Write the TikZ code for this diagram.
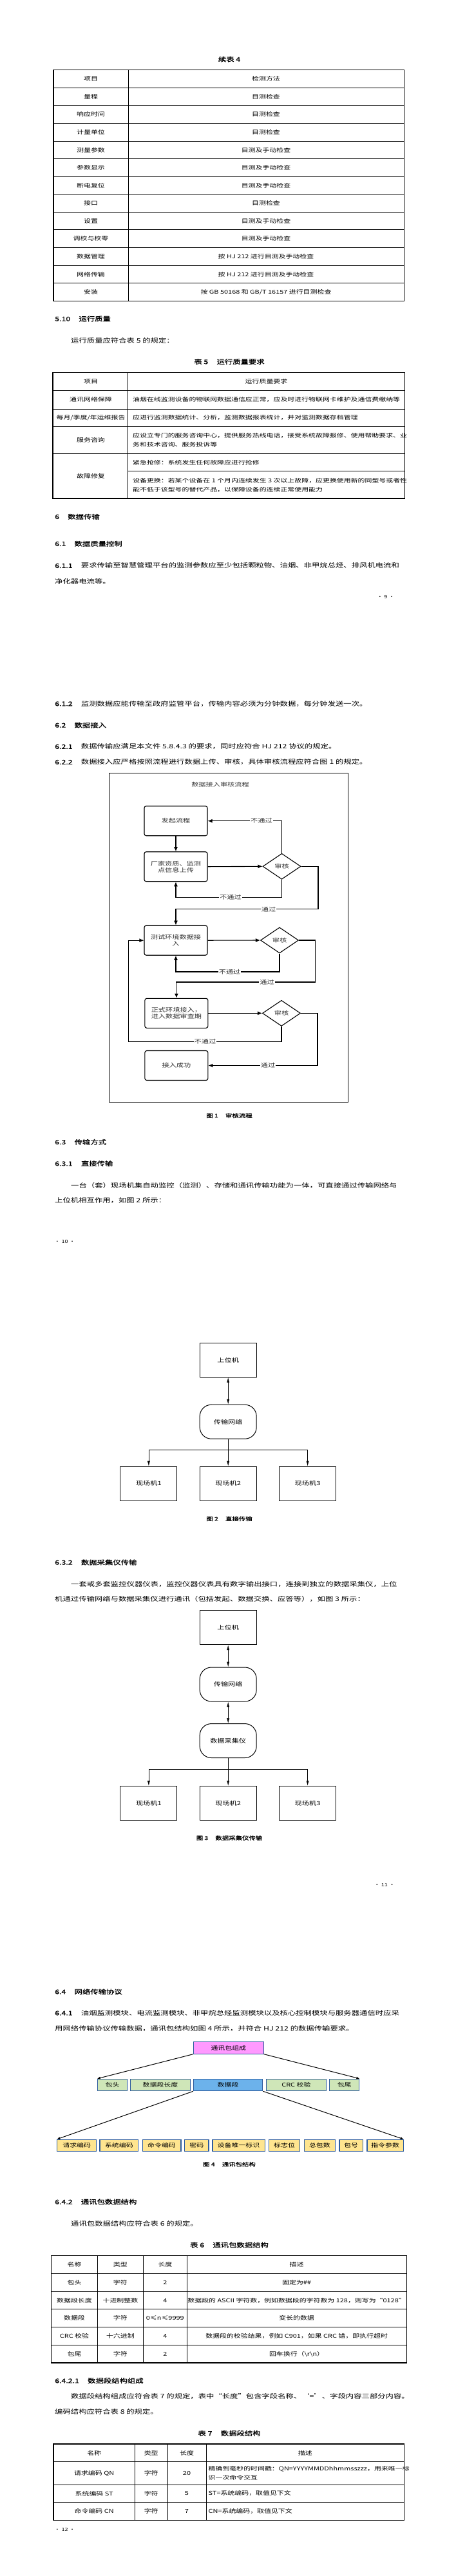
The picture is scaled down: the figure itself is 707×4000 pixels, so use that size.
\documentclass[tikz,border=0pt]{standalone}
\usepackage{fontspec}
\setmainfont{Noto Sans CJK SC}[FakeStretch=1.3]
\newfontfamily\heiti{Noto Sans CJK SC}[FakeStretch=1.3,FakeBold=1.2]
\usetikzlibrary{positioning,shapes.geometric,arrows.meta}
\definecolor{pinkfill}{HTML}{FF99FF}
\definecolor{bluefill}{HTML}{6CB2EB}
\definecolor{greenfill}{HTML}{CFE6B8}
\definecolor{yellowfill}{HTML}{FFE58F}
\definecolor{boxline}{HTML}{2E5C9E}
\newcommand{\bodyfont}{\fontsize{9.5}{11}\selectfont}
\newcommand{\tabfont}{\fontsize{8.4}{10}\selectfont}
\newcommand{\headfont}{\heiti\fontsize{9.5}{11}\selectfont}
\newcommand{\capfont}{\heiti\fontsize{8}{10}\selectfont}
\newcommand{\figfont}{\fontsize{8.6}{10}\selectfont}
\newcommand{\numfont}{\fontsize{7}{8}\selectfont}
\newcommand{\hgap}{\hspace{1.4em}}

\begin{document}
\begin{tikzpicture}
  [x=1pt, y=-1pt,
   txt/.style={anchor=west, inner sep=0pt, font=\bodyfont},
   hd/.style={anchor=west, inner sep=0pt, font=\headfont},
   ttl/.style={inner sep=0pt, font=\headfont},
   figcap/.style={inner sep=0pt, font=\capfont},
   cell/.style={inner sep=0pt, font=\tabfont},
   lcell/.style={anchor=west, inner sep=0pt, font=\tabfont},
   pnum/.style={inner sep=0pt, font=\numfont},
   inner/.style={line width=0.9pt},
   outer/.style={line width=1.3pt},
   figtext/.style={inner sep=0pt, font=\figfont, text=black!80},
   fbox/.style={draw, line width=1.1pt, rounded corners=3pt, minimum width=98pt, minimum height=46pt, align=center, inner sep=2pt, font=\figfont, text=black!80},
   check/.style={diamond, draw, line width=1.1pt, minimum width=59pt, minimum height=40pt, inner sep=0pt, font=\figfont, text=black!80},
   flowarr/.style={line width=1.1pt, -{Latex[length=7pt,width=6pt]}},
   lbl/.style={fill=white, inner sep=1pt, font=\figfont, text=black!80},
   ubox/.style={draw, line width=1pt, minimum width=88pt, minimum height=53pt, font=\figfont},
   netbox/.style={ubox, rounded corners=18pt},
   wire/.style={line width=0.6pt, -{Latex[length=8pt,width=4pt]}},
   dwire/.style={line width=0.6pt, {Latex[length=8pt,width=4pt]}-{Latex[length=8pt,width=4pt]}},
   pkt/.style={draw=boxline, line width=1.1pt, minimum height=18.4pt, inner sep=0pt, font=\tabfont},
   fan/.style={line width=1pt, -{Latex[length=5pt,width=4pt]}}]

  \useasboundingbox (0,0) rectangle (707,4000);
  \fill[white] (0,0) rectangle (707,4000);

  \node[ttl] (t4title) at (356,92) {续表 4};
  \foreach \i in {1,...,12}
    \draw[inner] (83,{108.7+\i*27.58}) -- (627.5,{108.7+\i*27.58});
  \draw[inner] (199,108.7) -- (199,467.3);
  \draw[outer] (83,108.7) rectangle (627.5,467.3);
  \foreach \a/\b [count=\i] in {项目/检测方法, 量程/目测检查, 响应时间/目测检查, 计量单位/目测检查, 测量参数/目测及手动检查, 参数显示/目测及手动检查, 断电复位/目测及手动检查, 接口/目测检查, 设置/目测及手动检查, 调校与校零/目测及手动检查, 数据管理/按 HJ 212 进行目测及手动检查, 网络传输/按 HJ 212 进行目测及手动检查, 安装/{按 GB 50168 和 GB/T 16157 进行目测检查}}
  {
    \node[cell] (t4a\i) at (141,{108.7+(\i-0.5)*27.58}) {\a};
    \node[cell] (t4b\i) at (413,{108.7+(\i-0.5)*27.58}) {\b};
  }

  \node[hd] (s510) at (85,495) {5.10\hgap 运行质量};
  \node[txt] (p510) at (110,529) {运行质量应符合表 5 的规定：};
  \node[ttl] (t5title) at (356,561.7) {表 5\hgap 运行质量要求};
  \draw[inner] (82,606.7) -- (628.5,606.7) (82,635) -- (628.5,635) (82,662.7) -- (628.5,662.7) (82,704.3) -- (628.5,704.3) (198.5,731.7) -- (628.5,731.7) (198.5,578.3) -- (198.5,774);
  \draw[outer] (82,578.3) rectangle (628.5,774);
  \node[cell] (t5a1) at (141,592.5) {项目};
  \node[cell] (t5b1) at (413.5,592.5) {运行质量要求};
  \node[cell] (t5a2) at (141,620.8) {通讯网络保障};
  \node[lcell] (t5b2) at (206,620.8) {油烟在线监测设备的物联网数据通信应正常，应及时进行物联网卡维护及通信费缴纳等};
  \node[cell] (t5a3) at (141,648.8) {每月/季度/年运维报告};
  \node[lcell] (t5b3) at (206,648.8) {应进行监测数据统计、分析，监测数据报表统计，并对监测数据存档管理};
  \node[cell] (t5a4) at (141,683.5) {服务咨询};
  \node[lcell] (t5b4) at (206,676.7) {应设立专门的服务咨询中心，提供服务热线电话，接受系统故障报修、使用帮助要求、业};
  \node[lcell] (t5c4) at (206,690.7) {务和技术咨询、服务投诉等};
  \node[cell] (t5a5) at (141,739.3) {故障修复};
  \node[lcell] (t5b5) at (206,718.3) {紧急抢修：系统发生任何故障应进行抢修};
  \node[lcell] (t5c5) at (206,746.7) {设备更换：若某个设备在 1 个月内连续发生 3 次以上故障，应更换使用新的同型号或者性};
  \node[lcell] (t5d5) at (206,760) {能不低于该型号的替代产品，以保障设备的连续正常使用能力};

  \node[hd] (s6) at (85,802.3) {6\hgap 数据传输};
  \node[hd] (s61) at (85,844.3) {6.1\hgap 数据质量控制};
  \node[txt] (s611) at (85,878.3) {{\headfont 6.1.1}\hgap 要求传输至智慧管理平台的监测参数应至少包括颗粒物、油烟、非甲烷总烃、排风机电流和};
  \node[txt] (s611b) at (85,902.7) {净化器电流等。};
  \node[pnum] (pg9) at (599,927.3) {· 9 ·};

  \node[txt] (s612) at (85,1092.7) {{\headfont 6.1.2}\hgap 监测数据应能传输至政府监管平台，传输内容必须为分钟数据，每分钟发送一次。};
  \node[hd] (s62) at (85,1126) {6.2\hgap 数据接入};
  \node[txt] (s621) at (85,1159.3) {{\headfont 6.2.1}\hgap 数据传输应满足本文件 5.8.4.3 的要求，同时应符合 HJ 212 协议的规定。};
  \node[txt] (s622) at (85,1183.3) {{\headfont 6.2.2}\hgap 数据接入应严格按照流程进行数据上传、审核，具体审核流程应符合图 1 的规定。};

  \draw[line width=1pt] (169,1200) rectangle (540,1711);
  \node[figtext] (fltitle) at (342,1218.3) {数据接入审核流程};
  \node[fbox] (start) at (273,1274.7) {发起流程};
  \node[fbox] (upload) at (273,1345.7) {厂家资质、监测\\点信息上传};
  \node[fbox] (test) at (273,1460.2) {测试环境数据接\\入};
  \node[fbox] (formal) at (273.9,1573.3) {正式环境接入，\\进入数据审查期};
  \node[fbox] (done) at (273.9,1654.5) {接入成功};
  \node[check] (chk1) at (437.5,1345.3) {审核};
  \node[check] (chk2) at (434,1460) {审核};
  \node[check] (chk3) at (437,1573.3) {审核};
  \coordinate (b1) at (437.5,1393.3);
  \coordinate (b2) at (494,1411.7);
  \coordinate (b3) at (434,1509);
  \coordinate (b4) at (489.4,1525);
  \coordinate (b5) at (437,1617.7);
  \coordinate (b6) at (199.4,1617.7);
  \coordinate (b7) at (493,1654.5);
  \draw[flowarr] (start) -- (upload);
  \draw[flowarr] (upload.east) -- (chk1.west);
  \draw[flowarr] (chk1.north) |- (start.east);
  \draw[flowarr] (chk1.south) -- (b1) -| (upload.south);
  \draw[flowarr] (chk1.east) -| (b2) -| (test.north);
  \draw[flowarr] (test.east) -- (chk2.west);
  \draw[flowarr] (chk2.south) -- (b3) -| (test.south);
  \draw[flowarr] (chk2.east) -| (b4) -| (formal.north);
  \draw[flowarr] (formal.east) -- (chk3.west);
  \draw[flowarr] (chk3.south) -- (b5) -- (b6) |- (test.west);
  \draw[flowarr] (chk3.east) -| (b7) -- (done.east);
  \node[lbl] (no1) at (406,1274.7) {不通过};
  \node[lbl] (no2) at (358,1393.3) {不通过};
  \node[lbl] (ok1) at (417,1411.7) {通过};
  \node[lbl] (no3) at (356.6,1509) {不通过};
  \node[lbl] (ok2) at (414.6,1525) {通过};
  \node[lbl] (no4) at (318.5,1617.7) {不通过};
  \node[lbl] (ok3) at (416,1654.5) {通过};
  \node[figcap] (fig1) at (356,1732.3) {图 1\hgap 审核流程};

  \node[hd] (s63) at (85,1773.3) {6.3\hgap 传输方式};
  \node[hd] (s631) at (85,1806.7) {6.3.1\hgap 直接传输};
  \node[txt] (p631) at (110,1840.7) {一台（套）现场机集自动监控（监测）、存储和通讯传输功能为一体，可直接通过传输网络与};
  \node[txt] (p631b) at (85,1864.3) {上位机相互作用，如图 2 所示：};
  \node[pnum] (pg10) at (100.6,1927.7) {· 10 ·};

  \node[ubox] (host1) at (354.2,2111.7) {上位机};
  \node[netbox] (net1) at (354.2,2207.7) {传输网络};
  \node[ubox] (site11) at (230.9,2303.7) {现场机1};
  \node[ubox] (site12) at (354.2,2303.7) {现场机2};
  \node[ubox] (site13) at (477.6,2303.7) {现场机3};
  \coordinate (j1) at (354.2,2251.7);
  \draw[dwire] (host1) -- (net1);
  \draw[wire] (net1) -- (site12);
  \draw[wire] (j1) -| (site11.north);
  \draw[wire] (j1) -| (site13.north);
  \node[figcap] (fig2) at (356,2358.3) {图 2\hgap 直接传输};

  \node[hd] (s632) at (85,2426) {6.3.2\hgap 数据采集仪传输};
  \node[txt] (p632) at (110,2460) {一套或多套监控仪器仪表，监控仪器仪表具有数字输出接口，连接到独立的数据采集仪，上位};
  \node[txt] (p632b) at (85,2483.3) {机通过传输网络与数据采集仪进行通讯（包括发起、数据交换、应答等），如图 3 所示：};

  \node[ubox] (host2) at (354.2,2527.2) {上位机};
  \node[netbox] (net2) at (354.2,2615.5) {传输网络};
  \node[netbox] (dau) at (354.2,2703) {数据采集仪};
  \node[ubox] (site21) at (230.9,2800) {现场机1};
  \node[ubox] (site22) at (354.2,2800) {现场机2};
  \node[ubox] (site23) at (477.6,2800) {现场机3};
  \coordinate (j2) at (354.2,2747.3);
  \draw[dwire] (host2) -- (net2);
  \draw[dwire] (net2) -- (dau);
  \draw[wire] (dau) -- (site22);
  \draw[wire] (j2) -| (site21.north);
  \draw[wire] (j2) -| (site23.north);
  \node[figcap] (fig3) at (356,2854) {图 3\hgap 数据采集仪传输};
  \node[pnum] (pg11) at (597,2927.3) {· 11 ·};

  \node[hd] (s64) at (85,3092.7) {6.4\hgap 网络传输协议};
  \node[txt] (s641) at (85,3125.7) {{\headfont 6.4.1}\hgap 油烟监测模块、电流监测模块、非甲烷总烃监测模块以及核心控制模块与服务器通信时应采};
  \node[txt] (s641b) at (85,3150) {用网络传输协议传输数据，通讯包结构如图 4 所示，并符合 HJ 212 的数据传输要求。};

  \node[pkt, fill=pinkfill, minimum width=108.8pt] (pk0) at (354.8,3179.9) {通讯包组成};
  \node[pkt, fill=greenfill, minimum width=46.3pt] (pk1) at (174.5,3237.5) {包头};
  \node[pkt, fill=greenfill, minimum width=92.9pt] (pk2) at (249,3237.5) {数据段长度};
  \node[pkt, fill=bluefill, minimum width=107.4pt] (pk3) at (354.1,3237.5) {数据段};
  \node[pkt, fill=greenfill, minimum width=92.4pt] (pk4) at (459.9,3237.5) {CRC 校验};
  \node[pkt, fill=greenfill, minimum width=46.2pt] (pk5) at (534.7,3237.5) {包尾};
  \foreach \n/\cx/\w/\t [count=\i] in {qn/119.2/60.7/请求编码, st/184.9/59.8/系统编码, cn/251/59.9/命令编码, pw/305.4/37.2/密码, mn/370.5/81.1/设备唯一标识, flag/441.6/48.5/标志位, pnum/496.4/48.5/总包数, pno/545.1/36.2/包号, cp/598.1/56.2/指令参数}
    \node[pkt, fill=yellowfill, minimum width=\w pt] (f\n) at (\cx,3331.5) {\t};
  \draw[fan] (pk0.south west) -- (pk1.north west);
  \draw[fan] (pk0.south east) -- (pk5.north east);
  \draw[fan] (pk3.south west) -- (fqn.north west);
  \draw[fan] (pk3.south east) -- (fcp.north east);
  \node[figcap] (fig4) at (356,3360.7) {图 4\hgap 通讯包结构};

  \node[hd] (s642) at (85,3419) {6.4.2\hgap 通讯包数据结构};
  \node[txt] (p642) at (110,3452.7) {通讯包数据结构应符合表 6 的规定。};
  \node[ttl] (t6title) at (356,3486) {表 6\hgap 通讯包数据结构};
  \foreach \i in {1,...,5}
    \draw[inner] (79.7,{3502.7+\i*27.72}) -- (631.2,{3502.7+\i*27.72});
  \draw[inner] (151.3,3502.7) -- (151.3,3669) (222.5,3502.7) -- (222.5,3669) (290,3502.7) -- (290,3669);
  \draw[outer] (79.7,3502.7) rectangle (631.2,3669);
  \foreach \a/\b/\c/\d [count=\i] in {名称/类型/长度/描述, 包头/字符/2/{固定为\#\#}, 数据段长度/十进制整数/4/{数据段的 ASCII 字符数，例如数据段的字符数为 128，则写为“0128”}, 数据段/字符/{0≤n≤9999}/变长的数据, CRC 校验/十六进制/4/{数据段的校验结果，例如 C901，如果 CRC 错，即执行超时}, 包尾/字符/2/{回车换行（\textbackslash r\textbackslash n）}}
  {
    \node[cell] (t6a\i) at (115.5,{3502.7+(\i-0.5)*27.72}) {\a};
    \node[cell] (t6b\i) at (186.9,{3502.7+(\i-0.5)*27.72}) {\b};
    \node[cell] (t6c\i) at (256.3,{3502.7+(\i-0.5)*27.72}) {\c};
    \node[cell] (t6d\i) at (460.6,{3502.7+(\i-0.5)*27.72}) {\d};
  }

  \node[hd] (s6421) at (85,3696.7) {6.4.2.1\hgap 数据段结构组成};
  \node[txt] (p6421) at (110,3721) {数据段结构组成应符合表 7 的规定，表中“长度”包含字段名称、‘=’、字段内容三部分内容。};
  \node[txt] (p6421b) at (85,3745) {编码结构应符合表 8 的规定。};
  \node[ttl] (t7title) at (356,3778.3) {表 7\hgap 数据段结构};
  \draw[inner] (83,3822.7) -- (627.5,3822.7) (83,3858.3) -- (627.5,3858.3) (83,3885.3) -- (627.5,3885.3);
  \draw[inner] (209.3,3795) -- (209.3,3913.3) (260,3795) -- (260,3913.3) (320,3795) -- (320,3913.3);
  \draw[outer] (83,3795) rectangle (627.5,3913.3);
  \node[cell] (t7a1) at (146.2,3808.9) {名称};
  \node[cell] (t7b1) at (234.7,3808.9) {类型};
  \node[cell] (t7c1) at (290,3808.9) {长度};
  \node[cell] (t7d1) at (473.8,3808.9) {描述};
  \node[cell] (t7a2) at (146.2,3840.5) {请求编码 QN};
  \node[cell] (t7b2) at (234.7,3840.5) {字符};
  \node[cell] (t7c2) at (290,3840.5) {20};
  \node[lcell] (t7d2) at (323.5,3833.3) {精确到毫秒的时间戳：QN=YYYYMMDDhhmmsszzz，用来唯一标};
  \node[lcell] (t7e2) at (323.5,3847.7) {识一次命令交互};
  \node[cell] (t7a3) at (146.2,3871.8) {系统编码 ST};
  \node[cell] (t7b3) at (234.7,3871.8) {字符};
  \node[cell] (t7c3) at (290,3871.8) {5};
  \node[lcell] (t7d3) at (323.5,3871.8) {ST=系统编码，取值见下文};
  \node[cell] (t7a4) at (146.2,3899.3) {命令编码 CN};
  \node[cell] (t7b4) at (234.7,3899.3) {字符};
  \node[cell] (t7c4) at (290,3899.3) {7};
  \node[lcell] (t7d4) at (323.5,3899.3) {CN=系统编码，取值见下文};
  \node[pnum] (pg12) at (100.6,3927.7) {· 12 ·};
\end{tikzpicture}
\end{document}
